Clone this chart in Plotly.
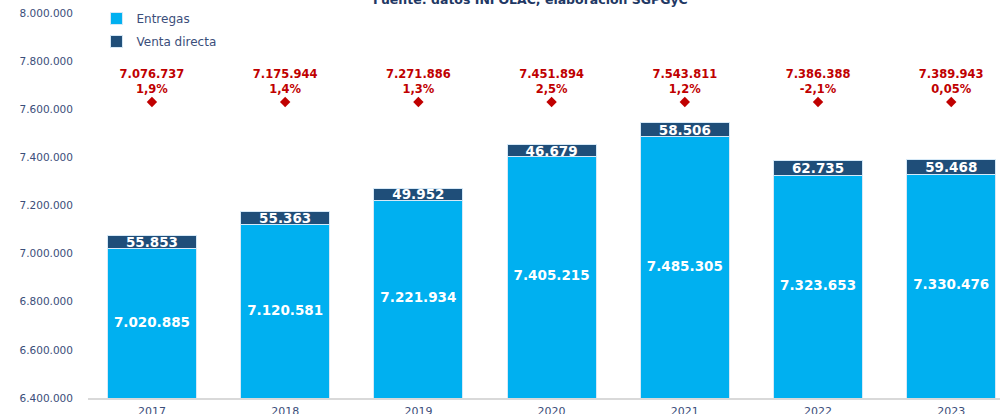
import plotly.graph_objects as go

years = ["2017", "2018", "2019", "2020", "2021", "2022", "2023"]
entregas = [7020885, 7120581, 7221934, 7405215, 7485305, 7323653, 7330476]
venta_directa = [55853, 55363, 49952, 46679, 58506, 62735, 59468]
totales = [7076737, 7175944, 7271886, 7451894, 7543811, 7386388, 7389943]
variacion = ["1,9%", "1,4%", "1,3%", "2,5%", "1,2%", "-2,1%", "0,05%"]
nivel_marcador = [7630000] * len(years)

y_min, y_max = 6400000, 8000000
y_ticks = [6400000, 6600000, 6800000, 7000000, 7200000, 7400000, 7600000, 7800000, 8000000]


def fmt(v):
    return f"{v:,}".replace(",", ".")


FONT = "DejaVu Sans"
LIGHT = "#00b0f0"
DARK = "#1f4e79"
RED = "#c00000"
TXT = "#3b4e7a"

fig = go.Figure()
fig.add_trace(go.Bar(
    x=years, y=entregas, name="Entregas", legendgroup="a",
    marker=dict(color=LIGHT, line=dict(color="#d6e9f7", width=1)),
    hovertemplate="%{y:,d}<extra>Entregas</extra>",
))
fig.add_trace(go.Bar(
    x=years, y=venta_directa, name="Venta directa", legendgroup="b",
    marker=dict(color=DARK, line=dict(color="#d6e9f7", width=1)),
    text=[fmt(v) for v in venta_directa], textposition="inside", insidetextanchor="middle",
    textfont=dict(family=FONT, size=13.5, color="white", weight="bold"),
    constraintext="none",
))
# labels of Entregas, centred in the visible part of each bar
fig.add_trace(go.Scatter(
    x=years, y=[(y_min + v) / 2 for v in entregas], mode="text",
    text=[fmt(v) for v in entregas],
    textfont=dict(family=FONT, size=13.5, color="white", weight="bold"),
    showlegend=False, hoverinfo="skip",
))
fig.add_trace(go.Scatter(
    x=years, y=nivel_marcador, mode="markers+text",
    marker=dict(symbol="diamond", size=8, color=RED),
    text=[f"{fmt(t)}<br>{p}" for t, p in zip(totales, variacion)],
    textposition="top center",
    textfont=dict(family=FONT, size=11.5, color=RED, weight="bold"),
    showlegend=False, hoverinfo="skip",
))

fig.update_layout(
    width=1000, height=414,
    margin=dict(l=88, r=0, t=13, b=16, autoexpand=False),
    barmode="stack", bargap=0.332,
    separators=",.",
    plot_bgcolor="white", paper_bgcolor="white",
    font=dict(family=FONT, color=TXT),
    legend=dict(
        x=0.0093, y=1.0234, xanchor="left", yanchor="top",
        orientation="v", traceorder="grouped",
        font=dict(family=FONT, size=12, color=TXT),
        bgcolor="rgba(0,0,0,0)", tracegroupgap=4,
    ),
    annotations=[dict(
        text="<b>Fuente: datos INFOLAC, elaboración SGPGyC</b>",
        x=0.485, y=1, xref="paper", yref="paper",
        xanchor="center", yanchor="middle", yshift=13.5,
        showarrow=False, font=dict(family=FONT, size=12.5, color="#1f3864"),
    )],
)
fig.update_xaxes(
    type="category", range=[-0.48, 6.366], automargin=False,
    showline=True, linecolor="#d9d9d9", linewidth=1.5,
    showgrid=False, ticks="", tickfont=dict(family=FONT, size=11, color=TXT),
    ticklabelstandoff=2,
)
fig.update_yaxes(
    range=[y_min, y_max], tickvals=y_ticks, tickformat=",d", automargin=False,
    showgrid=False, showline=False, zeroline=False,
    tickfont=dict(family=FONT, size=10.5, color=TXT),
    ticklabelstandoff=14,
)

fig.write_html(
    "out.html",
    config={"displayModeBar": False},
    post_script="document.body.style.margin='0';document.body.style.overflow='hidden';",
)
